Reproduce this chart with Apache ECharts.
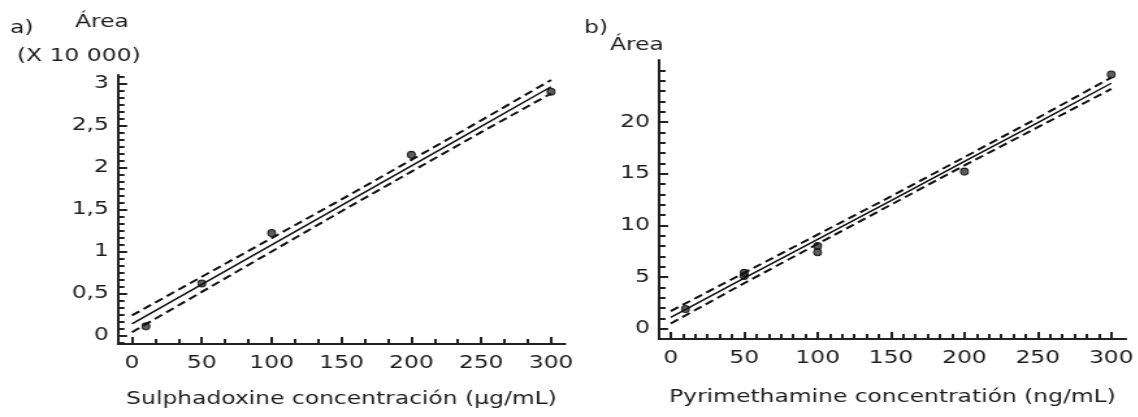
<!DOCTYPE html>
<html>
<head>
<meta charset="utf-8">
<script src="https://cdn.jsdelivr.net/npm/echarts@6/dist/echarts.min.js"></script>
<style>
html,body{margin:0;padding:0;background:#fff;overflow:hidden;}
#wrap{width:1138px;height:417px;overflow:hidden;}
#chart{height:417px;transform-origin:0 0;}
</style>
</head>
<body>
<div id="wrap"><div id="chart"></div></div>
<script>
// ---- data ----
const sulPointX = [10, 50, 100, 200, 300];
const sulPointY = [0.11, 0.62, 1.22, 2.15, 2.90];
const sulLineX = [0, 50, 100, 150, 200, 250, 300];
const sulFit   = [0.14, 0.61, 1.08, 1.55, 2.02, 2.49, 2.96];
const sulUpper = [0.24, 0.70, 1.16, 1.62, 2.09, 2.56, 3.04];
const sulLower = [0.04, 0.52, 1.00, 1.48, 1.95, 2.42, 2.88];

const pyrPointX = [10, 50, 50, 100, 100, 200, 300];
const pyrPointY = [1.9, 5.1, 5.4, 8.0, 7.4, 15.2, 24.6];
const pyrLineX = [0, 50, 100, 150, 200, 250, 300];
const pyrFit   = [1.1, 4.9, 8.65, 12.4, 16.2, 19.95, 23.75];
const pyrUpper = [1.7, 5.4, 9.1, 12.8, 16.6, 20.4, 24.3];
const pyrLower = [0.5, 4.4, 8.2, 12.0, 15.8, 19.5, 23.2];

const xTicks = [0, 50, 100, 150, 200, 250, 300];
const sulYTicks = [0, 0.5, 1, 1.5, 2, 2.5, 3];
const pyrYTicks = [0, 5, 10, 15, 20];

// ---- layout ----
const S = 1.3;
const W = 1138 / S;
const chartEl = document.getElementById('chart');
chartEl.style.width = W + 'px';
chartEl.style.transform = 'scaleX(' + S + ')';

function range(a, b, step) { const r = []; for (let v = a; v <= b + 1e-9; v += step) r.push(+v.toFixed(4)); return r; }
const zip = (xs, ys) => xs.map((x, i) => [x, ys[i]]);

const FONT = 'DejaVu Sans';
const TXT = '#1e1e1e';
const AX = '#222';

const gridA = {left: 118 / S, top: 75, width: (565 - 118) / S, height: 269};
const gridB = {left: 659 / S, top: 60, width: (1126 - 659) / S, height: 279};
const LIM = {
  A: {x: [-10, 310], y: [-0.1, 3.1]},
  B: {x: [-8, 310], y: [-1, 26]}
};

const grids = [gridA, gridB];
const xAxes = [];
const yAxes = [];

function mainX(grid, lim, name, gap) {
  return {
    type: 'value', gridIndex: grid, min: lim[0], max: lim[1], position: 'bottom',
    splitLine: {show: false},
    axisLine: {show: true, onZero: false, lineStyle: {color: AX, width: 2}},
    axisTick: {show: false},
    axisLabel: {customValues: xTicks, color: TXT, fontFamily: FONT, fontSize: 18, margin: 10},
    name: name, nameLocation: 'middle', nameGap: gap,
    nameTextStyle: {color: TXT, fontFamily: FONT, fontSize: 18}
  };
}
function mainY(grid, lim, ticks, fmt) {
  return {
    type: 'value', gridIndex: grid, min: lim[0], max: lim[1], position: 'left',
    splitLine: {show: false},
    axisLine: {show: true, onZero: false, lineStyle: {color: AX, width: 2}},
    axisTick: {show: false},
    axisLabel: {customValues: ticks, color: TXT, fontFamily: FONT, fontSize: 18, margin: 7, formatter: fmt}
  };
}
// tick-only axes, each in its own grid with a hidden partner axis starting at 0
function tickAxisX(rect, lim, vals, len) {
  const g = grids.length; grids.push(Object.assign({}, rect));
  xAxes.push({type: 'value', gridIndex: g, min: lim[0], max: lim[1], position: 'bottom',
    splitLine: {show: false}, axisLine: {show: false, onZero: true},
    axisTick: {show: true, inside: true, length: len, customValues: vals, lineStyle: {color: AX, width: 2}},
    axisLabel: {show: false}});
  yAxes.push({type: 'value', gridIndex: g, min: 0, max: 1, show: false});
}
function tickAxisY(rect, lim, vals, len) {
  const g = grids.length; grids.push(Object.assign({}, rect));
  yAxes.push({type: 'value', gridIndex: g, min: lim[0], max: lim[1], position: 'left',
    splitLine: {show: false}, axisLine: {show: false, onZero: true},
    axisTick: {show: true, inside: true, length: len, customValues: vals, lineStyle: {color: AX, width: 2}},
    axisLabel: {show: false}});
  xAxes.push({type: 'value', gridIndex: g, min: 0, max: 1, show: false});
}

xAxes.push(mainX(0, LIM.A.x, 'Sulphadoxine concentración (µg/mL)', 46));
xAxes.push(mainX(1, LIM.B.x, 'Pyrimethamine concentratión (ng/mL)', 49));
yAxes.push(mainY(0, LIM.A.y, sulYTicks, v => String(v).replace('.', ',')));
yAxes.push(mainY(1, LIM.B.y, pyrYTicks, v => String(v)));

tickAxisX(gridA, LIM.A.x, xTicks, 7);
tickAxisX(gridA, LIM.A.x, range(0, 300, 50 / 3), 5);
tickAxisY(gridA, LIM.A.y, sulYTicks, 7);
tickAxisY(gridA, LIM.A.y, range(-0.0833, 3.1, 0.5 / 6), 5);
tickAxisX(gridB, LIM.B.x, xTicks, 7);
tickAxisX(gridB, LIM.B.x, range(0, 300, 50 / 6), 5);
tickAxisY(gridB, LIM.B.y, pyrYTicks, 7);
tickAxisY(gridB, LIM.B.y, range(0, 25, 1), 5);

const lineS = (xi, yi, data, dashed) => ({
  type: 'line', xAxisIndex: xi, yAxisIndex: yi, data: data, showSymbol: false, symbol: 'none',
  silent: true, animation: false,
  lineStyle: dashed ? {color: '#111', width: 2, type: [7, 4]} : {color: '#111', width: 1.5}
});
const scat = (xi, yi, data) => ({
  type: 'scatter', xAxisIndex: xi, yAxisIndex: yi, data: data, symbol: 'circle', symbolSize: [6, 7],
  animation: false, itemStyle: {color: '#333', borderColor: '#000', borderWidth: 1}
});

const chart = echarts.init(chartEl, null, {renderer: 'canvas'});
chart.setOption({
  backgroundColor: '#fff',
  animation: false,
  grid: grids,
  xAxis: xAxes,
  yAxis: yAxes,
  series: [
    lineS(0, 0, zip(sulLineX, sulUpper), true),
    lineS(0, 0, zip(sulLineX, sulLower), true),
    lineS(0, 0, zip(sulLineX, sulFit), false),
    scat(0, 0, zip(sulPointX, sulPointY)),
    lineS(1, 1, zip(pyrLineX, pyrUpper), true),
    lineS(1, 1, zip(pyrLineX, pyrLower), true),
    lineS(1, 1, zip(pyrLineX, pyrFit), false),
    scat(1, 1, zip(pyrPointX, pyrPointY))
  ],
  graphic: [
    {type: 'text', left: 10 / S, top: 19, style: {text: 'a)', fill: TXT, font: '18px "DejaVu Sans"'}},
    {type: 'text', left: 75 / S, top: 13, style: {text: 'Área', fill: TXT, font: '18px "DejaVu Sans"'}},
    {type: 'text', left: 17 / S, top: 47, style: {text: '(X 10 000)', fill: TXT, font: '18px "DejaVu Sans"'}},
    {type: 'text', left: 584 / S, top: 19, style: {text: 'b)', fill: TXT, font: '18px "DejaVu Sans"'}},
    {type: 'text', left: 610 / S, top: 36, style: {text: 'Área', fill: TXT, font: '18px "DejaVu Sans"'}}
  ]
});
</script>
</body>
</html>
